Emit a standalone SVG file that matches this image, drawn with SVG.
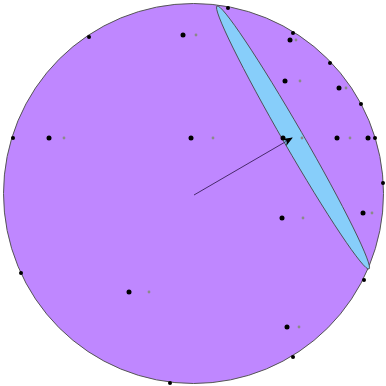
<svg xmlns="http://www.w3.org/2000/svg" width="386" height="386" viewBox="0 0 386 386">
<defs>
<style>
.bd{fill:#000}
.pt{fill:#000}
.sh{fill:#8a8a8a}
</style>
<marker id="ah" viewBox="0 0 10 10" refX="9" refY="5" markerWidth="10" markerHeight="10" markerUnits="userSpaceOnUse" orient="auto">
<path d="M0,1 L10,5 L0,9 L3,5 Z" fill="#000"/>
</marker>
</defs>
<g id="sphere">
<circle cx="193.5" cy="193.5" r="190" fill="#bf87ff" stroke="#555" stroke-width="1"/>
</g>
<g id="lens">
<ellipse cx="293" cy="137.5" rx="151.9" ry="10" transform="rotate(59.97 293 137.5)" fill="#87cefa" stroke="#444" stroke-width="0.8"/>
</g>
<g id="boundary-points">
<circle class="bd" cx="89" cy="37" r="2"/>
<circle class="bd" cx="228" cy="8" r="2"/>
<circle class="bd" cx="293" cy="33" r="2"/>
<circle class="bd" cx="330" cy="63" r="2"/>
<circle class="bd" cx="361" cy="104" r="2"/>
<circle class="bd" cx="375" cy="138" r="2"/>
<circle class="bd" cx="383" cy="183" r="2"/>
<circle class="bd" cx="364" cy="280" r="2"/>
<circle class="bd" cx="293" cy="357" r="2"/>
<circle class="bd" cx="170" cy="383" r="2"/>
<circle class="bd" cx="21" cy="273" r="2"/>
<circle class="bd" cx="13" cy="138" r="2"/>
</g>
<g id="points">
<circle class="sh" cx="196" cy="35" r="1.4"/><circle class="pt" cx="183" cy="35" r="2.5"/>
<circle class="sh" cx="296" cy="40" r="1.4"/><circle class="pt" cx="290" cy="40" r="2.5"/>
<circle class="sh" cx="300" cy="81" r="1.4"/><circle class="pt" cx="285" cy="81" r="2.5"/>
<circle class="sh" cx="346" cy="88" r="1.4"/><circle class="pt" cx="339" cy="88" r="2.5"/>
<circle class="sh" cx="64" cy="138" r="1.4"/><circle class="pt" cx="49" cy="138" r="2.5"/>
<circle class="sh" cx="213" cy="138" r="1.4"/><circle class="pt" cx="191" cy="138" r="2.5"/>
<circle class="sh" cx="302" cy="138" r="1.4"/><circle class="pt" cx="283" cy="138" r="2.5"/>
<circle class="sh" cx="350" cy="138" r="1.4"/><circle class="pt" cx="337" cy="138" r="2.5"/>
<circle class="pt" cx="368" cy="138" r="2.5"/>
<circle class="sh" cx="303" cy="218" r="1.4"/><circle class="pt" cx="282" cy="218" r="2.5"/>
<circle class="sh" cx="372" cy="213" r="1.4"/><circle class="pt" cx="363" cy="213" r="2.5"/>
<circle class="sh" cx="149" cy="292" r="1.4"/><circle class="pt" cx="129" cy="292" r="2.5"/>
<circle class="sh" cx="299" cy="327" r="1.4"/><circle class="pt" cx="287" cy="327" r="2.5"/>
</g>
<g id="connectors">
<line x1="194" y1="195" x2="292" y2="138" stroke="#3a1f5a" stroke-width="0.9" marker-end="url(#ah)"/>
</g>
</svg>
